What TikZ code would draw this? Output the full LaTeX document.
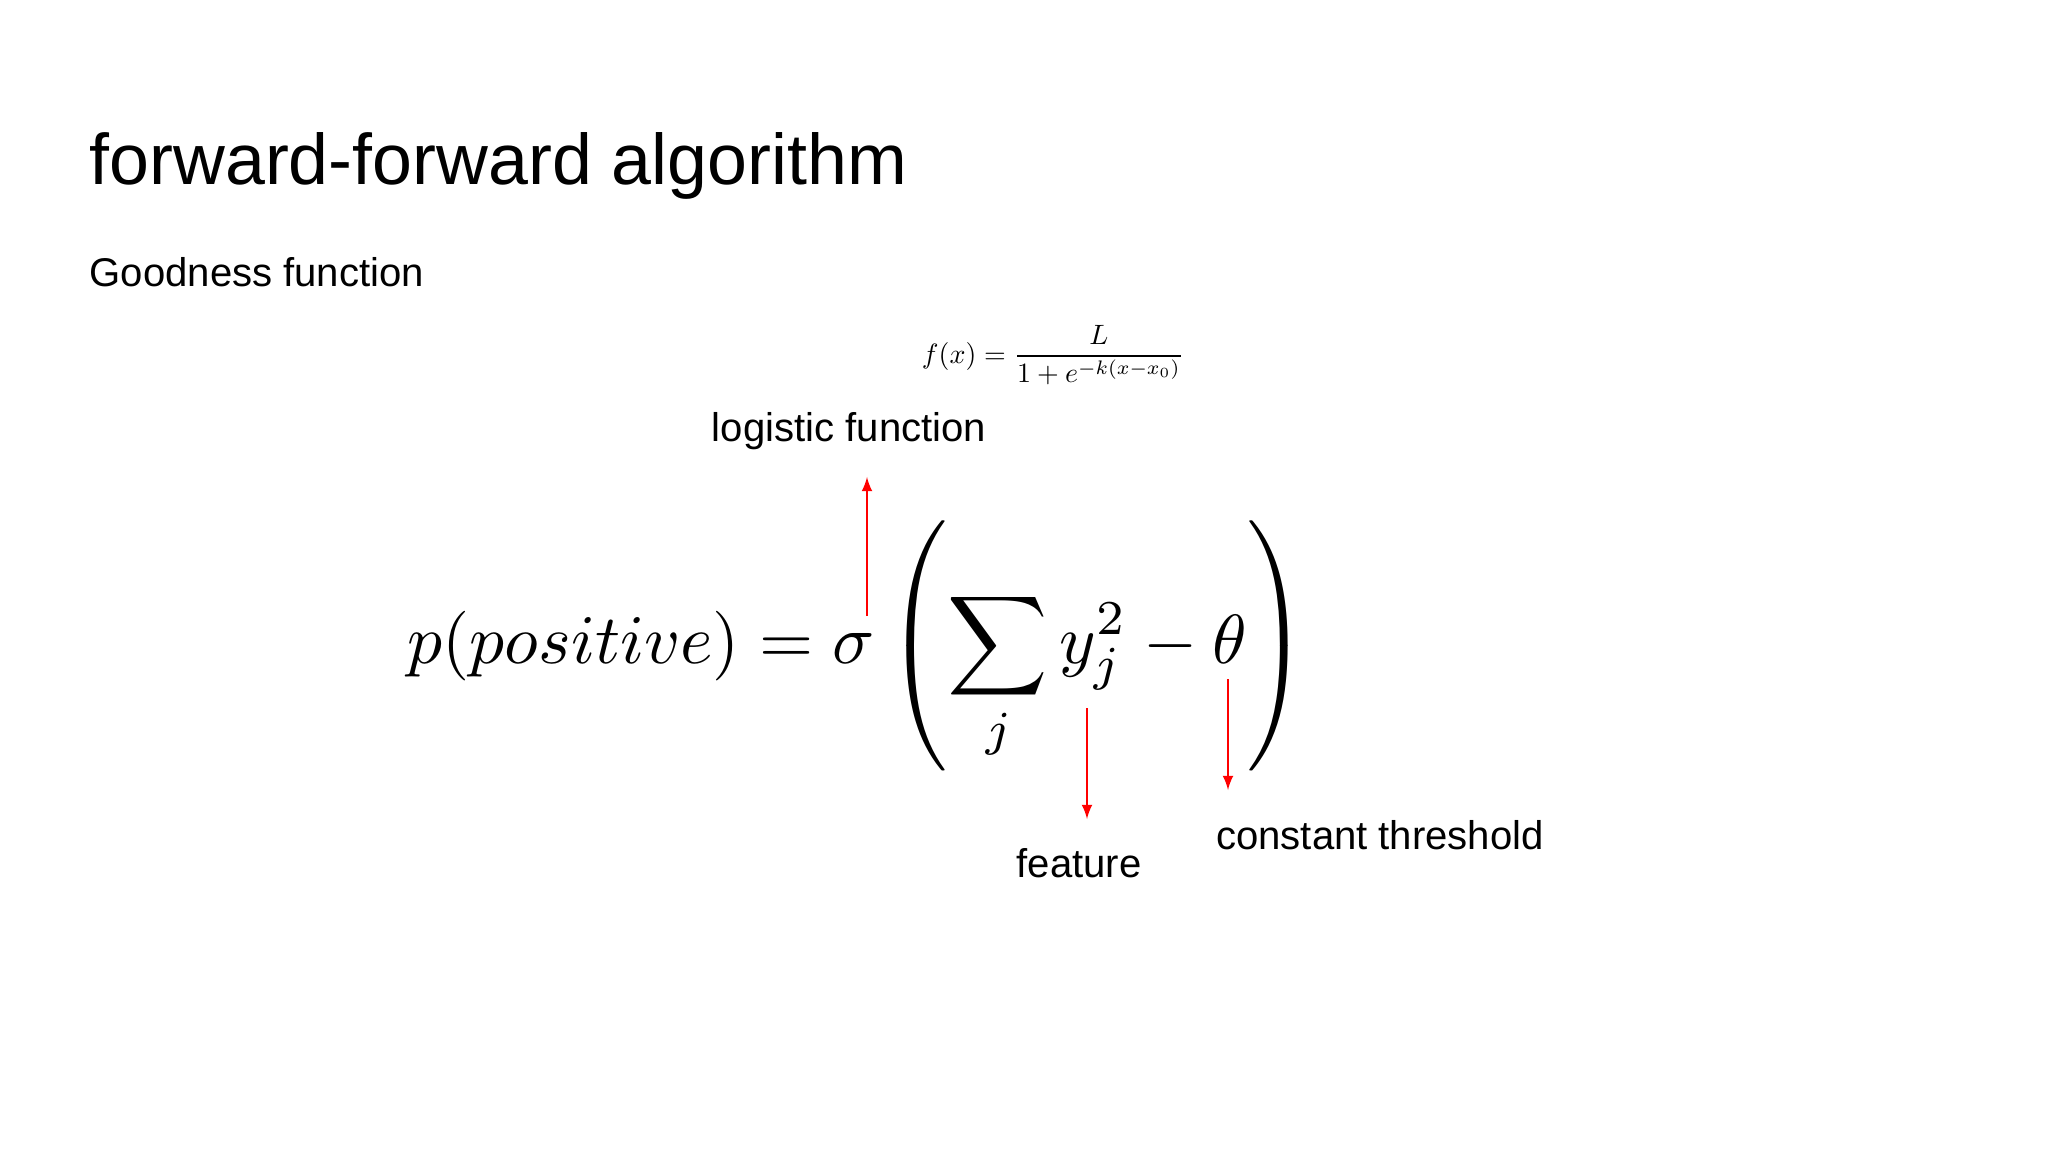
\documentclass[tikz,border=0pt]{standalone}
\usepackage{amsmath}
\usepackage{fontspec}
\setmainfont{Liberation Sans}
\usepackage{graphicx}
\begin{document}
\begin{tikzpicture}[x=0.01cm,y=-0.01cm,
    lbl/.style={font=\fontsize{11.4}{14}\selectfont, inner sep=0pt},
    redarrow/.style={draw=red, -latex, thin}]
\useasboundingbox[fill=white] (0,0) rectangle (2048,1152);
\node[anchor=west, inner sep=0pt, font=\fontsize{20.4}{24}\selectfont] (title) at (89,166) {forward-forward algorithm};
\node[anchor=west, lbl] (sub) at (89,272) {Goodness function};
\node[inner sep=0pt] (logf) at (1053,355) {\resizebox{2.62cm}{!}{$f(x)=\dfrac{L}{1+e^{-k(x-x_0)}}$}};
\node[inner sep=0pt] (goodness) at (858,646) {\resizebox{9.0cm}{!}{$\displaystyle p(positive)=\sigma\left(\sum_j y_j^2-\theta\right)$}};
\node[lbl] (logistic) at (849,431) {logistic function};
\node[lbl] (feature) at (1079,863) {feature};
\node[lbl] (threshold) at (1380,835) {constant threshold};
\coordinate (sigma) at (867,616);
\coordinate (sigmatop) at (867,477);
\coordinate (yj) at (1087,708);
\coordinate (yjend) at (1087,819);
\coordinate (theta) at (1228,679);
\coordinate (thetaend) at (1228,790);
\draw[redarrow] (sigma) -- (sigmatop);
\draw[redarrow] (yj) -- (yjend);
\draw[redarrow] (theta) -- (thetaend);
\end{tikzpicture}
\end{document}
